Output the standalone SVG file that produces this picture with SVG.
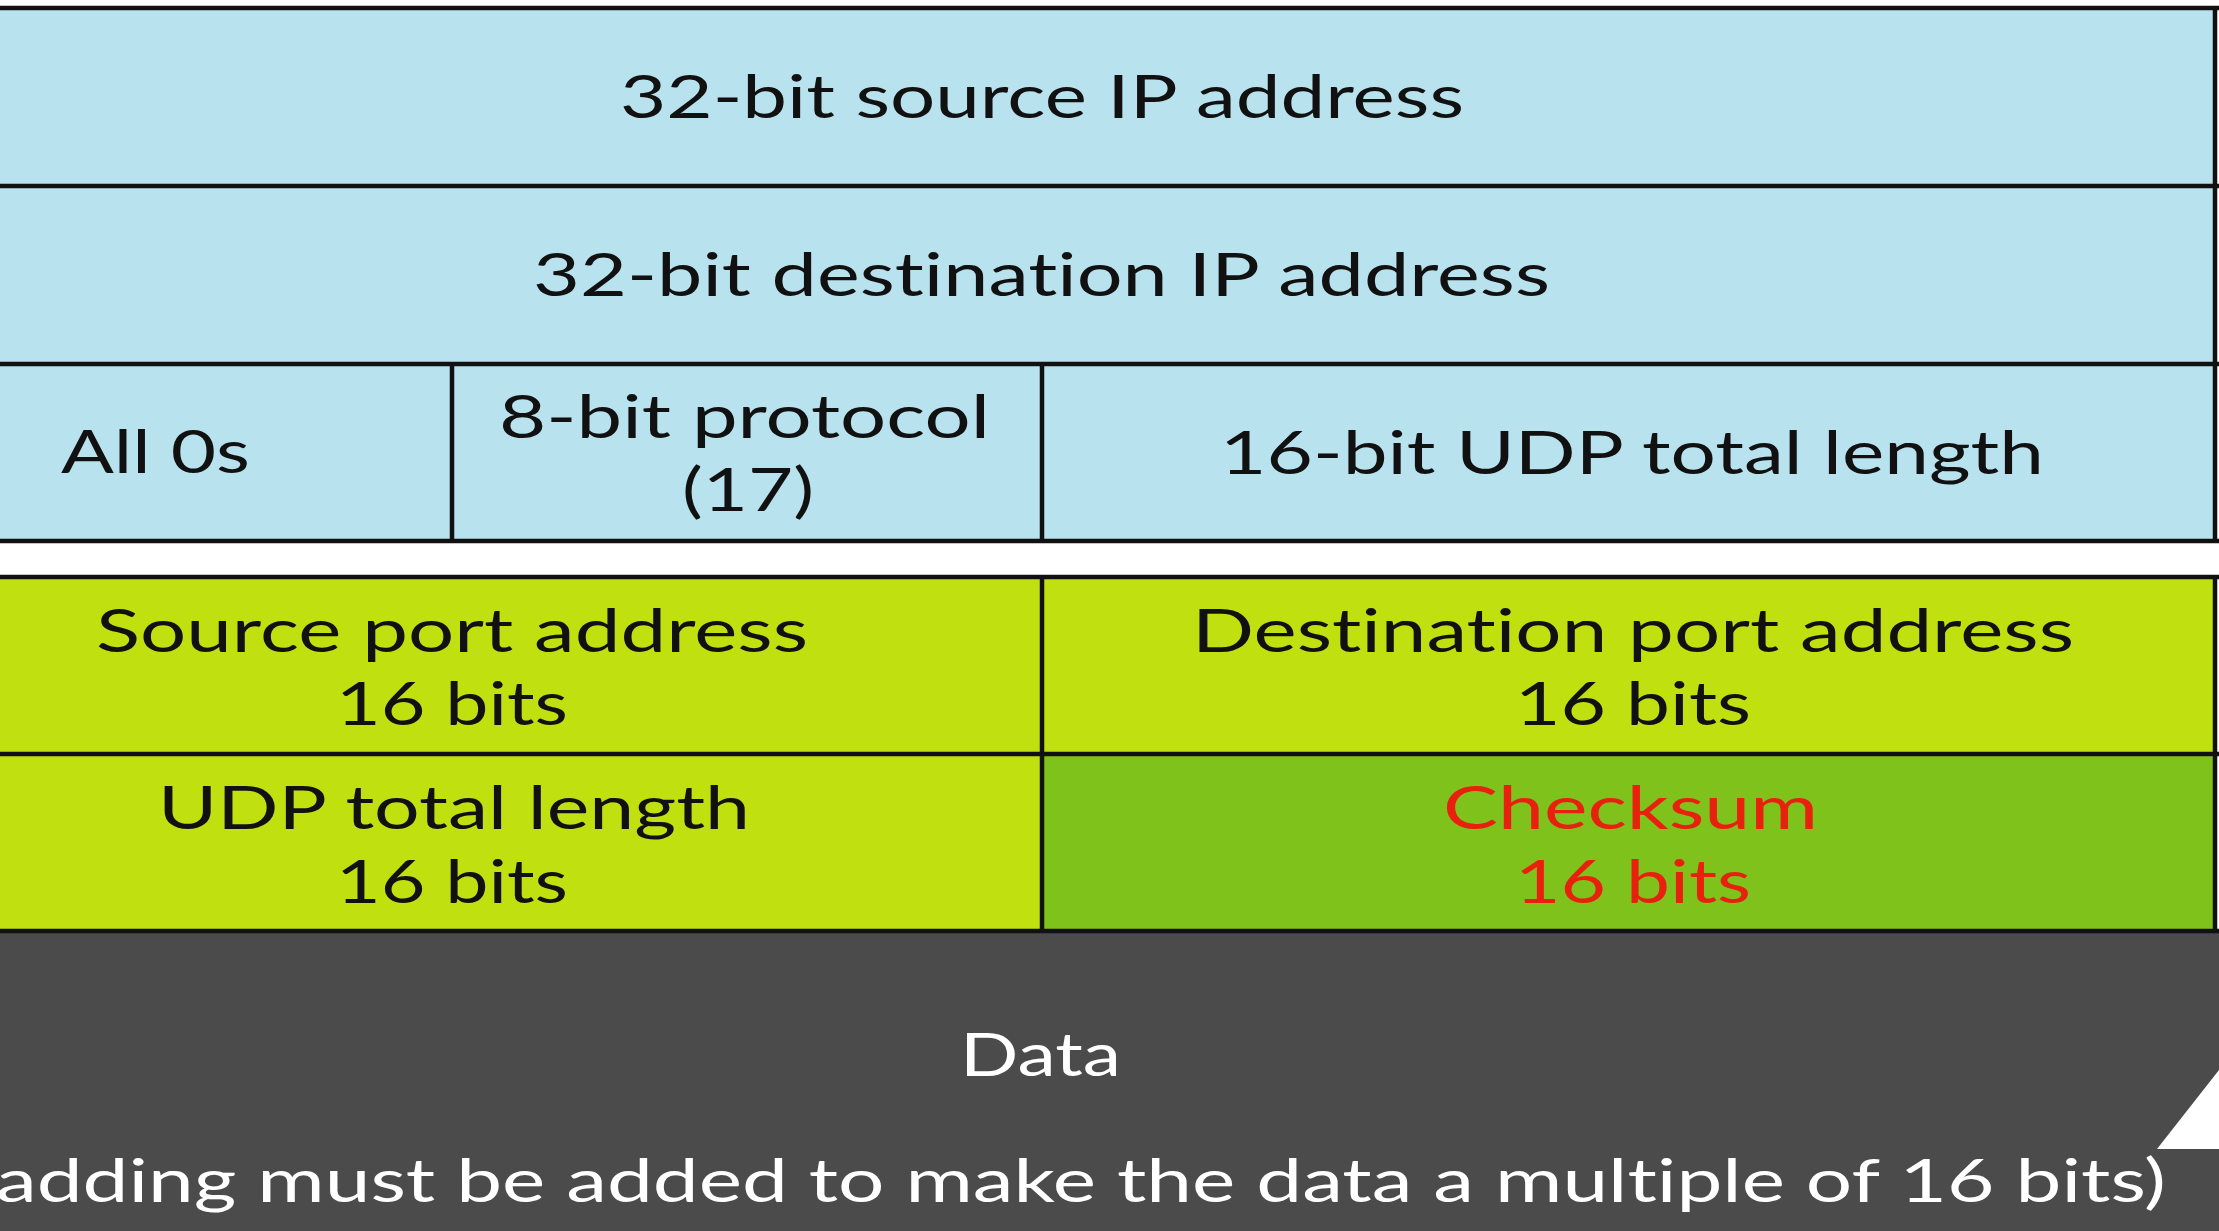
<svg xmlns="http://www.w3.org/2000/svg" width="2219" height="1231" viewBox="0 0 2219 1231">
<style>
.t{font-family:Lato,"Liberation Sans",sans-serif;font-size:60px;fill:#111;font-variant-ligatures:none;font-feature-settings:"liga" 0,"dlig" 0}
.red{fill:#e8200e}
.wt{fill:#ffffff}
.blue{fill:#b8e2ee}
.lg{fill:#c0e010}
.dg{fill:#80c21c}
.dark{fill:#4b4b4c}
.ln{stroke:#111;stroke-width:4.5;fill:none}
</style>
<rect x="0" y="0" width="2219" height="1231" fill="#ffffff"/>
<g id="src-ip">
<rect class="blue" x="0" y="8" width="2214" height="178"/>
<text class="t" x="620" y="118" textLength="844" lengthAdjust="spacingAndGlyphs">32-bit source IP address</text>
</g>
<g id="dst-ip">
<rect class="blue" x="0" y="186" width="2214" height="178"/>
<text class="t" x="533" y="296" textLength="1017" lengthAdjust="spacingAndGlyphs">32-bit destination IP address</text>
</g>
<g id="all-zeros">
<rect class="blue" x="0" y="364" width="452" height="177"/>
<text class="t" x="61" y="473" textLength="189" lengthAdjust="spacingAndGlyphs">All 0s</text>
</g>
<g id="protocol">
<rect class="blue" x="452" y="364" width="590" height="177"/>
<text class="t" x="499" y="438" textLength="491" lengthAdjust="spacingAndGlyphs">8-bit protocol</text>
<text class="t" x="682" y="511" textLength="132" lengthAdjust="spacingAndGlyphs">(17)</text>
</g>
<g id="udp-length-pseudo">
<rect class="blue" x="1042" y="364" width="1172" height="177"/>
<text class="t" x="1220" y="474" textLength="824" lengthAdjust="spacingAndGlyphs">16-bit UDP total length</text>
</g>
<g id="src-port">
<rect class="lg" x="0" y="577" width="1042" height="177"/>
<text class="t" x="96" y="652" textLength="712" lengthAdjust="spacingAndGlyphs">Source port address</text>
<text class="t" x="336" y="725" textLength="232" lengthAdjust="spacingAndGlyphs">16 bits</text>
</g>
<g id="dst-port">
<rect class="lg" x="1042" y="577" width="1172" height="177"/>
<text class="t" x="1192" y="652" textLength="882" lengthAdjust="spacingAndGlyphs">Destination port address</text>
<text class="t" x="1515" y="725" textLength="236" lengthAdjust="spacingAndGlyphs">16 bits</text>
</g>
<g id="udp-length">
<rect class="lg" x="0" y="754" width="1042" height="177"/>
<text class="t" x="158" y="829" textLength="592" lengthAdjust="spacingAndGlyphs">UDP total length</text>
<text class="t" x="336" y="903" textLength="232" lengthAdjust="spacingAndGlyphs">16 bits</text>
</g>
<g id="checksum">
<rect class="dg" x="1042" y="754" width="1172" height="177"/>
<text class="t red" x="1443" y="829" textLength="375" lengthAdjust="spacingAndGlyphs">Checksum</text>
<text class="t red" x="1515" y="903" textLength="236" lengthAdjust="spacingAndGlyphs">16 bits</text>
</g>
<g id="data">
<rect class="dark" x="0" y="931" width="2219" height="300"/>
<polygon fill="#ffffff" points="2157,1149 2219,1070 2219,1149"/>
<text class="t wt" x="960" y="1076" font-size="54" textLength="161" lengthAdjust="spacingAndGlyphs">Data</text>
<text class="t wt" x="-4" y="1202" textLength="2170" lengthAdjust="spacingAndGlyphs">adding must be added to make the data a multiple of 16 bits)</text>
</g>
<g id="connectors">
<line class="ln" x1="0" y1="8" x2="2219" y2="8"/>
<line class="ln" x1="0" y1="186" x2="2219" y2="186"/>
<line class="ln" x1="0" y1="364" x2="2219" y2="364"/>
<line class="ln" x1="0" y1="541" x2="2219" y2="541"/>
<line class="ln" x1="0" y1="577" x2="2219" y2="577"/>
<line class="ln" x1="0" y1="754" x2="2219" y2="754"/>
<line class="ln" x1="0" y1="931" x2="2219" y2="931"/>
<line class="ln" x1="452" y1="364" x2="452" y2="541"/>
<line class="ln" x1="1042" y1="364" x2="1042" y2="541"/>
<line class="ln" x1="1042" y1="577" x2="1042" y2="931"/>
<line class="ln" x1="2215" y1="6" x2="2215" y2="543" stroke-width="3.5"/>
<line class="ln" x1="2215" y1="575" x2="2215" y2="931" stroke-width="3.5"/>
</g>
</svg>
